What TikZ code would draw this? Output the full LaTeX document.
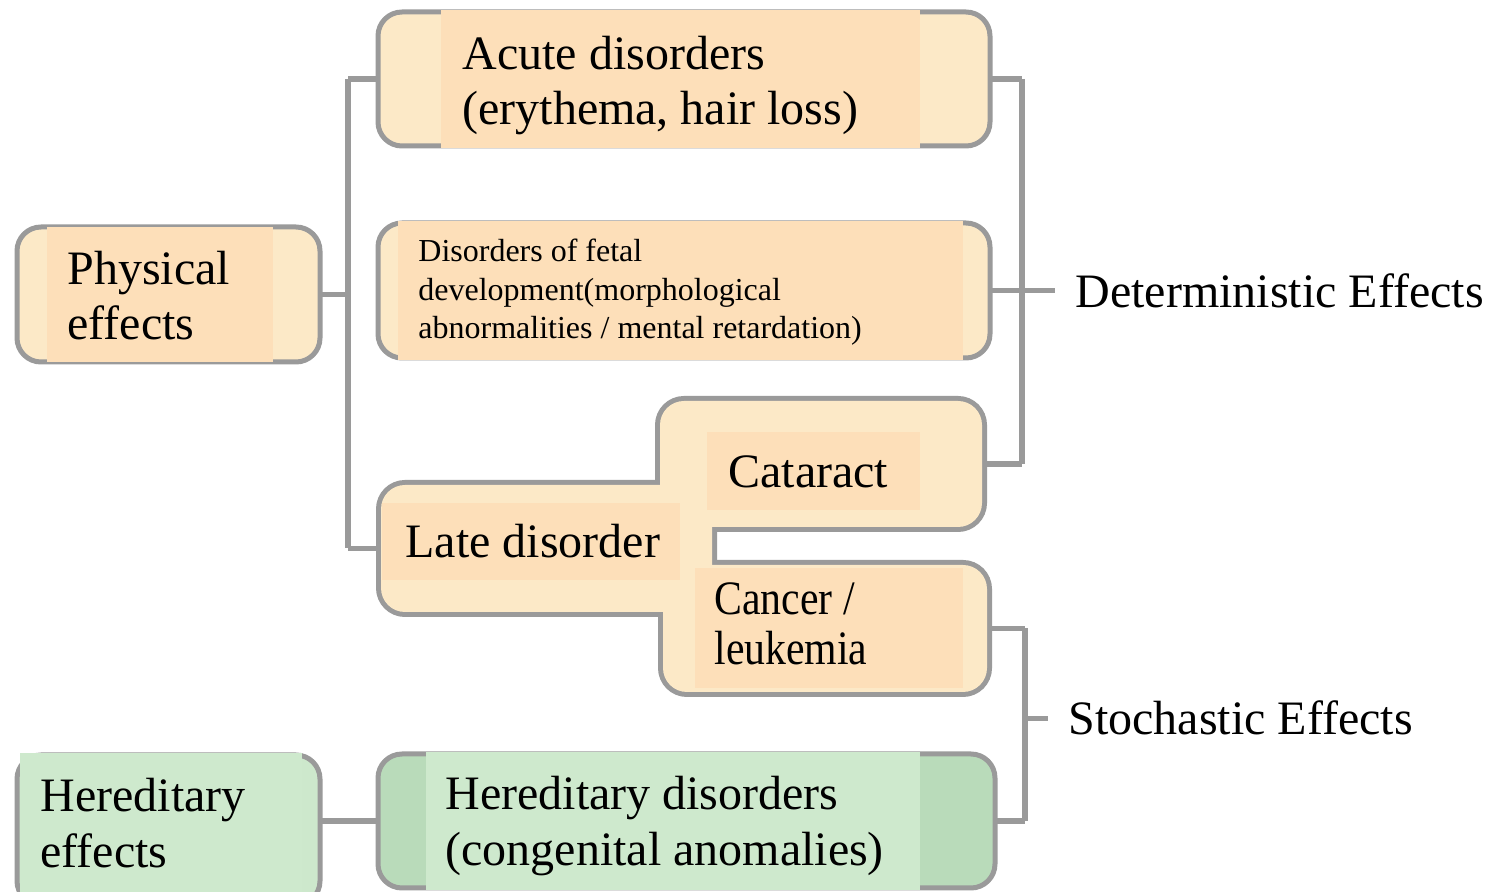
\documentclass[tikz,border=0pt]{standalone}
\usepackage{fontspec}
\setmainfont{Liberation Serif}
\usetikzlibrary{fit,backgrounds}
\definecolor{ofill}{HTML}{FCE9C7}
\definecolor{opatch}{HTML}{FDDFB9}
\definecolor{gfill}{HTML}{B9DBBA}
\definecolor{gpatch}{HTML}{CEE9CD}
\definecolor{lgfill}{HTML}{CDE8CC}
\definecolor{edge}{HTML}{9A9A9A}
\begin{document}
\begin{tikzpicture}[x=0.5pt,y=-0.5pt,
  box/.style={draw=edge, line width=2.5pt, rounded corners=12pt, inner sep=0pt, outer sep=0pt},
  shell/.style={draw=edge, line width=5pt, rounded corners=12pt, inner sep=0pt, outer sep=0pt},
  conn/.style={draw=edge, line width=2.8pt},
  big/.style={font=\fontsize{24}{27.5}\selectfont, anchor=base west, inner sep=0pt},
  small/.style={font=\fontsize{16}{19.5}\selectfont, anchor=base west, inner sep=0pt}]
\useasboundingbox (0,0) rectangle (1501,892);

% box corners
\coordinate (phys-a) at (17,227);   \coordinate (phys-b) at (320,362);
\coordinate (acute-a) at (378,12);  \coordinate (acute-b) at (990,146);
\coordinate (fetal-a) at (378,223); \coordinate (fetal-b) at (990,358);
\coordinate (late-a) at (381,485);  \coordinate (late-b) at (712,612);
\coordinate (cat-a) at (660,401);   \coordinate (cat-b) at (982,527);
\coordinate (canc-a) at (663,565);  \coordinate (canc-b) at (987,692);
\coordinate (her-a) at (17,755);    \coordinate (her-b) at (320,905);
\coordinate (herd-a) at (378,754);  \coordinate (herd-b) at (995,888);

% plain boxes
\node[box, fill=ofill, fit=(phys-a)(phys-b)] (phys) {};
\node[box, fill=ofill, fit=(acute-a)(acute-b)] (acute) {};
\node[box, fill=ofill, fit=(fetal-a)(fetal-b)] (fetal) {};
\node[box, fill=lgfill, fit=(her-a)(her-b)] (her) {};
\node[box, fill=gfill, fit=(herd-a)(herd-b)] (herd) {};

% late disorder group: outer halves of wide strokes form the joint outline
\node[shell, fit=(late-a)(late-b)] (late) {};
\node[shell, fit=(cat-a)(cat-b)] (cat) {};
\node[shell, fit=(canc-a)(canc-b)] (canc) {};
\fill[ofill, rounded corners=12pt] (late.north west) rectangle (late.south east);
\fill[ofill, rounded corners=12pt] (cat.north west) rectangle (cat.south east);
\fill[ofill, rounded corners=12pt] (canc.north west) rectangle (canc.south east);

% text backgrounds
\fill[opatch] (47,227) rectangle (273,362);
\fill[opatch] (441,10) rectangle (920,148);
\fill[opatch] (398,221) rectangle (963,360);
\fill[opatch] (707,432) rectangle (920,510);
\fill[opatch] (382,503) rectangle (680,580);
\fill[opatch] (695,568) rectangle (963,688);
\fill[gpatch] (20,753) rectangle (302,892);
\fill[gpatch] (426,752) rectangle (920,890);

% labels
\node[big] (phys1) at (67,285) {Physical};
\node[big] (phys2) at (67,340) {effects};
\node[big] (acute1) at (462,70) {Acute disorders};
\node[big] (acute2) at (462,125) {(erythema, hair loss)};
\node[small] (fetal1) at (418,262) {Disorders of fetal};
\node[small] (fetal2) at (418,301) {development(morphological};
\node[small] (fetal3) at (418,339) {abnormalities / mental retardation)};
\node[big] (catl) at (728,488) {Cataract};
\node[big] (latel) at (405,558) {Late disorder};
\node[big] (canc1) at (714,615) {\scalebox{0.87}[1]{Cancer /}};
\node[big] (canc2) at (714,665) {\scalebox{0.87}[1]{leukemia}};
\node[big] (her1) at (40,812) {Hereditary};
\node[big] (her2) at (40,868) {effects};
\node[big] (herd1) at (445,810) {Hereditary disorders};
\node[big] (herd2) at (445,866) {(congenital anomalies)};
\node[big] (det) at (1075,308) {Deterministic Effects};
\node[big] (sto) at (1068,735) {Stochastic Effects};

% connectors, kept behind the boxes
\coordinate (L) at (348,0);
\coordinate (R) at (1022,0);
\coordinate (S) at (1025,0);
\begin{scope}[on background layer]
  \fill[white] (0,0) rectangle (1501,892);
  \draw[conn] (phys.center) -- (phys.center -| L);
  \draw[conn] (acute.west -| L) -- (late.west -| L);
  \draw[conn] (acute.west -| L) -- (acute.center);
  \draw[conn] (late.west -| L) -- (late.center);
  \draw[conn] (acute.east -| R) -- (cat.east -| R);
  \draw[conn] (acute.center) -- (acute.east -| R);
  \draw[conn] (fetal.center) -- (fetal.east -| R);
  \draw[conn] (cat.center) -- (cat.east -| R);
  \draw[conn] (fetal.east -| R) -- ([xshift=-10pt]det.west |- fetal.east);
  \draw[conn] (canc.east -| S) -- (herd.east -| S);
  \draw[conn] (canc.center) -- (canc.east -| S);
  \draw[conn] (herd.center) -- (herd.east -| S);
  \draw[conn] (sto.west -| S) -- ([xshift=-10pt]sto.west);
  \draw[conn] (her.center |- herd.west) -- (herd.center);
\end{scope}
\end{tikzpicture}
\end{document}
